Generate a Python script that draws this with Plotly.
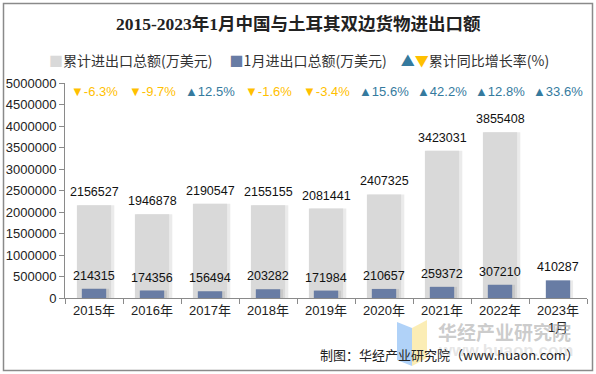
import plotly.graph_objects as go

categories = ["2015年", "2016年", "2017年", "2018年", "2019年", "2020年", "2021年", "2022年", "2023年<br>1月"]
cumulative = [2156527, 1946878, 2190547, 2155155, 2081441, 2407325, 3423031, 3855408, None]
january = [214315, 174356, 156494, 203282, 171984, 210657, 259372, 307210, 410287]
growth = [-6.3, -9.7, 12.5, -1.6, -3.4, 15.6, 42.2, 12.8, 33.6]
ytick_vals = [0, 500000, 1000000, 1500000, 2000000, 2500000, 3000000, 3500000, 4000000, 4500000, 5000000]

GREY = "#d9d9d9"
BLUE = "#687ca4"
ORANGE = "#ffc000"
TEAL = "#357a9e"
FONT = "Liberation Sans, Arial, Noto Sans CJK SC"
CJK = "Noto Sans CJK SC, Liberation Sans"

W, H = 596, 374
L, R, T, B = 65, 9, 83, 76
PW, PH = W - L - R, H - T - B


def px(x):
    return (x - L) / PW


def py(y):
    return (H - B - y) / PH


fig = go.Figure()

# soft shadow behind bars
fig.add_trace(go.Bar(x=categories, y=cumulative, width=0.62, offset=-0.27,
                     marker=dict(color="rgba(0,0,0,0.08)", line_width=0),
                     hoverinfo="skip", showlegend=False))
fig.add_trace(go.Bar(x=categories, y=cumulative, width=0.59, offset=-0.295,
                     marker=dict(color=GREY, line_width=0), showlegend=False, name="累计进出口总额(万美元)"))
fig.add_trace(go.Bar(x=categories, y=january, width=0.45, offset=-0.19,
                     marker=dict(color="rgba(0,0,0,0.08)", line_width=0),
                     hoverinfo="skip", showlegend=False))
fig.add_trace(go.Bar(x=categories, y=january, width=0.42, offset=-0.21,
                     marker=dict(color=BLUE, line_width=0), showlegend=False, name="1月进出口总额(万美元)"))

annotations = []
for c, v in zip(categories, cumulative):
    if v is None:
        continue
    annotations.append(dict(x=c, y=v, text=str(v), showarrow=False, yshift=13,
                            xanchor="center", yanchor="middle",
                            xref="x", yref="y", font=dict(family=FONT, size=12.5, color="#111")))
for c, v in zip(categories, january):
    annotations.append(dict(x=c, y=v, text=str(v), showarrow=False, yshift=13,
                            xanchor="center", yanchor="middle",
                            xref="x", yref="y", font=dict(family=FONT, size=12.5, color="#111")))
for c, g in zip(categories, growth):
    sym, col = ("▲", TEAL) if g >= 0 else ("▼", ORANGE)
    annotations.append(dict(x=c, y=4800000, text=f"{sym}{g:.1f}%", showarrow=False,
                            xanchor="center", yanchor="middle",
                            xref="x", yref="y", font=dict(family=FONT, size=13, color=col)))


def label(x, y, text, font, xanchor="center"):
    annotations.append(dict(x=px(x), y=py(y), xref="paper", yref="paper", showarrow=False,
                            xanchor=xanchor, yanchor="middle", text=text, font=font))


# title
label(298, 24, "<b>2015-2023年1月中国与土耳其双边货物进出口额</b>",
      dict(family="Liberation Serif, Noto Sans CJK SC", size=17.5, color="#222"))
# legend
legend_text = (f"<span style='color:{GREY}'>■</span>累计进出口总额(万美元)　 "
               f"<span style='color:{BLUE}'>■</span>1月进出口总额(万美元)　"
               f"<span style='color:{TEAL}'>▲</span><span style='color:{ORANGE}'>▼</span>累计同比增长率(%)")
label(299, 60, legend_text, dict(family=CJK, size=14, color="#333"))
# watermark
label(504, 331, "<b>华经产业研究院</b>", dict(family=CJK, size=19, color="rgba(170,170,170,0.6)"))
label(505, 350, "<b>www.huaon.com</b>", dict(family=FONT, size=17, color="rgba(200,200,200,0.45)"))
# credit
label(581, 354, "制图：华经产业研究院（www.huaon.com）", dict(family=CJK, size=13, color="#222"),
      xanchor="right")

shapes = [
    # outer border
    dict(type="rect", xref="paper", yref="paper", x0=px(3.5), x1=px(592.5), y0=py(370.5), y1=py(3.5),
         line=dict(color="#8a8a8a", width=1.5), fillcolor="rgba(0,0,0,0)", layer="below"),
    # logo
    dict(type="path", xref="paper", yref="paper",
         path=f"M {px(397)},{py(322)} L {px(412)},{py(328)} L {px(412)},{py(366)} L {px(397)},{py(360)} Z",
         fillcolor="rgba(150,195,245,0.75)", line_width=0),
    dict(type="path", xref="paper", yref="paper",
         path=f"M {px(412)},{py(328)} L {px(427)},{py(320)} L {px(427)},{py(358)} L {px(412)},{py(366)} Z",
         fillcolor="rgba(250,230,150,0.7)", line_width=0),
]

fig.update_layout(
    width=W, height=H,
    margin=dict(l=L, r=R, t=T, b=B, autoexpand=False),
    paper_bgcolor="white", plot_bgcolor="white",
    barmode="overlay", bargap=0.4,
    showlegend=False,
    annotations=annotations, shapes=shapes,
    font=dict(family=FONT, size=13, color="#222"),
)
fig.update_xaxes(type="category", automargin=False, showline=True, linecolor="#8a8a8a", linewidth=1,
                 ticks="outside", ticklen=5, tickcolor="#8a8a8a", tickson="boundaries",
                 tickfont=dict(family=FONT, size=13, color="#222"), showgrid=False)
fig.update_yaxes(range=[0, 5000000], automargin=False, tickvals=ytick_vals, ticktext=[str(v) for v in ytick_vals],
                 showline=True, linecolor="#8a8a8a", linewidth=1, ticks="outside", ticklen=5,
                 tickcolor="#8a8a8a", showgrid=False, zeroline=False,
                 tickfont=dict(family=FONT, size=13, color="#222"))

fig.write_html("out.html", config={"displayModeBar": False},
               post_script="document.body.style.margin='0';document.body.style.overflow='hidden';")
